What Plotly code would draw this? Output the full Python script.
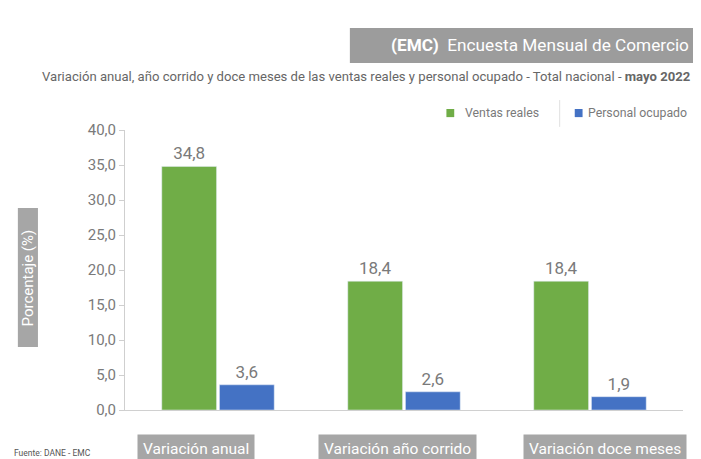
import plotly.graph_objects as go

categories = ["Variación anual", "Variación año corrido", "Variación doce meses"]
ventas_reales = [34.8, 18.4, 18.4]
personal_ocupado = [3.6, 2.6, 1.9]
y_ticks = [0, 5, 10, 15, 20, 25, 30, 35, 40]
series_names = ["Ventas reales", "Personal ocupado"]
series_colors = ["#70AD47", "#4472C4"]

FONT = "Roboto, Open Sans, sans-serif"
GREY = "#7a7a7a"
BOX = "#a6a6a6"


def fmt(v):
    return f"{v:.1f}".replace(".", ",")


fig = go.Figure()
for name, color, vals in zip(series_names, series_colors, [ventas_reales, personal_ocupado]):
    fig.add_trace(go.Bar(name=name, x=categories, y=vals,
                         marker_color=color,
                         text=[fmt(v) for v in vals],
                         textposition="outside", cliponaxis=False,
                         textfont=dict(size=17, color=GREY)))

fig.update_layout(
    width=685, height=451,
    margin=dict(l=117, r=10, t=122, b=49),
    paper_bgcolor="white", plot_bgcolor="white",
    font=dict(family=FONT, color=GREY),
    separators=",.",
    barmode="group", bargap=0.38, bargroupgap=0.05,
    showlegend=False,
    xaxis=dict(showticklabels=False, showline=True, linecolor="#d0d0d0",
               ticks="", showgrid=False),
    yaxis=dict(range=[0, 40], tickvals=y_ticks, tickformat=".1f",
               showline=True, linecolor="#cfcfcf", ticks="outside",
               tickcolor="#cfcfcf", ticklen=5, showgrid=False, zeroline=False,
               tickfont=dict(size=15, color=GREY)),
)

# Title box
fig.add_shape(type="rect", xref="paper", yref="paper",
              x0=0.403, x1=1.2, y0=1.239, y1=1.364,
              fillcolor="#9c9c9c", line_width=0, layer="below")
fig.add_annotation(xref="paper", yref="paper", x=1.014, y=1.302,
                   xanchor="right", yanchor="middle", showarrow=False,
                   text="<b>(EMC)</b>  Encuesta Mensual de Comercio",
                   font=dict(size=17.2, color="white", family=FONT))
fig.add_annotation(xref="paper", yref="paper", x=1.016, y=1.19,
                   xanchor="right", yanchor="middle", showarrow=False,
                   text="Variación anual, año corrido y doce meses de las ventas reales y personal ocupado - Total nacional - <b>mayo 2022</b>",
                   font=dict(size=13.1, color="#666666", family=FONT))

# Manual legend
leg_sq = [(0.576, 0.590), (0.806, 0.820)]
leg_tx = [0.606, 0.827]
for name, color, (sx0, sx1), tx in zip(series_names, series_colors, leg_sq, leg_tx):
    fig.add_shape(type="rect", xref="paper", yref="paper",
                  x0=sx0, x1=sx1, y0=1.046, y1=1.075,
                  fillcolor=color, line_width=0)
    fig.add_annotation(xref="paper", yref="paper", x=tx, y=1.061,
                       xanchor="left", yanchor="middle", showarrow=False,
                       text=name, font=dict(size=12.3, color=GREY, family=FONT))
fig.add_shape(type="line", xref="paper", yref="paper",
              x0=0.779, x1=0.779, y0=1.011, y1=1.107,
              line=dict(color="#e0e0e0", width=1))

# Y axis title box
fig.add_shape(type="rect", xref="paper", yref="paper",
              x0=-0.192, x1=-0.156, y0=0.225, y1=0.721,
              fillcolor=BOX, line_width=0)
fig.add_annotation(xref="paper", yref="paper", x=-0.174, y=0.473,
                   xanchor="center", yanchor="middle", showarrow=False,
                   text="Porcentaje (%)", textangle=-90,
                   font=dict(size=15, color="white", family=FONT))

# Category boxes
cat_box_x = [0.128, 0.489, 0.860]
for c, bx in zip(categories, cat_box_x):
    fig.add_annotation(x=bx, xref="paper", yref="paper", y=-0.141,
                       xanchor="center", yanchor="middle", showarrow=False,
                       text=c, bgcolor=BOX, borderpad=5,
                       font=dict(size=15.5, color="white", family=FONT))

fig.add_annotation(xref="paper", yref="paper", x=-0.2025, y=-0.153,
                   xanchor="left", yanchor="middle", showarrow=False,
                   text="Fuente: DANE - EMC",
                   font=dict(size=8.5, color="#555555", family=FONT))

fig.write_html("out.html")
